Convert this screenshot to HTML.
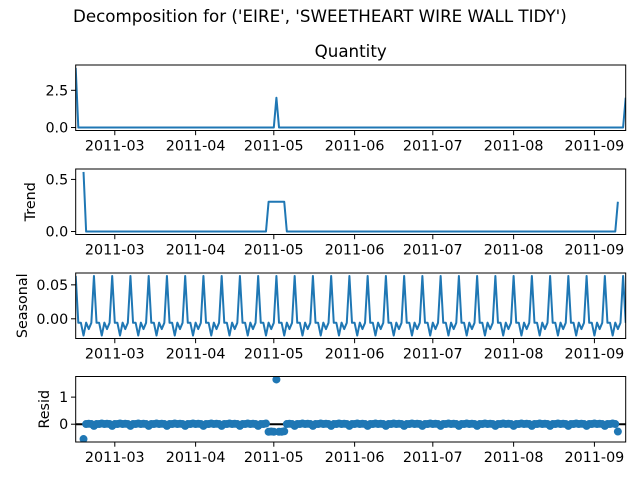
<!DOCTYPE html>
<html><head><meta charset="utf-8"><style>
body{margin:0;background:#fff;}
svg{display:block;font-family:"DejaVu Sans","Liberation Sans",sans-serif;}
</style></head><body>
<svg id="chart" width="640" height="480" viewBox="0 0 640 480" xmlns="http://www.w3.org/2000/svg">
<rect width="640" height="480" fill="#fff"/>
<text x="73" y="22" font-size="16.7" fill="#000">Decomposition for ('EIRE', 'SWEETHEART WIRE WALL TIDY')</text>
<text x="350.7" y="57" font-size="16.7" text-anchor="middle" fill="#000">Quantity</text>
</svg>
<script>
// Daily quantity from 2011-02-14 to 2011-09-13 (212 days)
const startDate = [2011, 1, 14];
const quantity = [4,0,0,0,0,0,0,0,0,0,0,0,0,0,0,0,0,0,0,0,0,0,0,0,0,0,0,0,0,0,
0,0,0,0,0,0,0,0,0,0,0,0,0,0,0,0,0,0,0,0,0,0,0,0,0,0,0,0,0,0,
0,0,0,0,0,0,0,0,0,0,0,0,0,0,0,0,0,2,0,0,0,0,0,0,0,0,0,0,0,0,
0,0,0,0,0,0,0,0,0,0,0,0,0,0,0,0,0,0,0,0,0,0,0,0,0,0,0,0,0,0,
0,0,0,0,0,0,0,0,0,0,0,0,0,0,0,0,0,0,0,0,0,0,0,0,0,0,0,0,0,0,
0,0,0,0,0,0,0,0,0,0,0,0,0,0,0,0,0,0,0,0,0,0,0,0,0,0,0,0,0,0,
0,0,0,0,0,0,0,0,0,0,0,0,0,0,0,0,0,0,0,0,0,0,0,0,0,0,0,0,0,0,
0,2];
const period = 7;
const xTickLabels = ["2011-03","2011-04","2011-05","2011-06","2011-07","2011-08","2011-09"];
const xTickDays = [15,46,76,107,137,168,199];
const yTicksQuantity = [0,2.5];
const yTickLabelsQuantity = ["0.0","2.5"];
const yTicksTrend = [0,0.5];
const yTickLabelsTrend = ["0.0","0.5"];
const yTicksSeasonal = [0,0.05];
const yTickLabelsSeasonal = ["0.00","0.05"];
const yTicksResid = [0,1];
const yTickLabelsResid = ["0","1"];

const n = quantity.length, h = Math.floor(period/2);
const trend = quantity.map((v,i)=>{
  if(i<h||i>=n-h) return null;
  let s=0; for(let k=-h;k<=h;k++) s+=quantity[i+k]; return s/period;
});
const avg=[]; for(let p=0;p<period;p++){let s=0,c=0;for(let i=p;i<n;i+=period){if(trend[i]!==null){s+=quantity[i]-trend[i];c++;}}avg.push(s/c);}
const m = avg.reduce((a,b)=>a+b,0)/period;
const seasonal = quantity.map((v,i)=>avg[i%period]-m);
const resid = quantity.map((v,i)=>trend[i]===null?null:v-trend[i]-seasonal[i]);

const svg=document.getElementById('chart'), NS='http://www.w3.org/2000/svg';
const X0=75.7, X1=625.7;
const FS=14.3;
const xs=i=>X0+(X1-X0)*i/(n-1);
function el(tag,attrs,parent){const e=document.createElementNS(NS,tag);for(const k in attrs)e.setAttribute(k,attrs[k]);(parent||svg).appendChild(e);return e;}
const panels=[
 {name:'quantity',data:quantity,top:65,ticks:yTicksQuantity,labels:yTickLabelsQuantity,ylabel:null},
 {name:'trend',data:trend,top:169,ticks:yTicksTrend,labels:yTickLabelsTrend,ylabel:'Trend',lx:30},
 {name:'seasonal',data:seasonal,top:273,ticks:yTicksSeasonal,labels:yTickLabelsSeasonal,ylabel:'Seasonal',lx:22},
 {name:'resid',data:resid,top:376.5,ticks:yTicksResid,labels:yTickLabelsResid,ylabel:'Resid',lx:44,scatter:true}
];
const H=65.5;
panels.forEach(p=>{
  const vals=p.data.filter(v=>v!==null);
  let lo=Math.min(...vals),hi=Math.max(...vals);const pad=(hi-lo)*0.05;lo-=pad;hi+=pad;
  const ys=v=>p.top+H-(v-lo)/(hi-lo)*H;
  const g=el('g',{});
  
  
  const cid='clip-'+p.name;
  const cp=el('clipPath',{id:cid},g);el('rect',{x:X0,y:p.top,width:X1-X0,height:H},cp);
  if(p.scatter){
    const zl=el('line',{x1:X0,x2:X1,y1:ys(0),y2:ys(0),stroke:'#000','stroke-width':2,'clip-path':'url(#'+cid+')'},g);
    
    
    const dg=el('g',{'clip-path':'url(#'+cid+')'},g);
    p.data.forEach((v,i)=>{if(v===null)return;
      const c=el('circle',{cx:xs(i),cy:ys(v),r:4,fill:'#1f77b4'},dg);
      
      
    });
  }else{
    let d='';let started=false;
    p.data.forEach((v,i)=>{if(v===null){started=false;return;}d+=(started?'L':'M')+xs(i).toFixed(2)+' '+ys(v).toFixed(2);started=true;});
    const path=el('path',{d:d,fill:'none',stroke:'#1f77b4','stroke-width':2,'stroke-linejoin':'round','clip-path':'url(#'+cid+')'},g);
    
    
  }
  const fr=el('rect',{x:X0,y:p.top,width:X1-X0,height:H,fill:'none',stroke:'#000','stroke-width':1},g);
  
  
  p.ticks.forEach((t,k)=>{const y=ys(t);
    el('line',{x1:X0-4.7,x2:X0,y1:y,y2:y,stroke:'#000','stroke-width':1},g);
    const tx=el('text',{x:X0-7.5,y:y+5,'font-size':FS,'text-anchor':'end',fill:'#000'},g);tx.textContent=p.labels[k];
    
    
  });
  xTickDays.forEach((d,k)=>{const x=xs(d);const yb=p.top+H;
    el('line',{x1:x,x2:x,y1:yb,y2:yb+4.7,stroke:'#000','stroke-width':1},g);
    const tx=el('text',{x:x,y:yb+20,'font-size':FS,'text-anchor':'middle',fill:'#000'},g);tx.textContent=xTickLabels[k];
    
    
  });
  if(p.ylabel){const cy=p.top+H/2;
    const t=el('text',{x:p.lx,y:cy,'font-size':FS,'text-anchor':'middle',fill:'#000',transform:'rotate(-90 '+p.lx+' '+cy+') translate(0 5)'},g);t.textContent=p.ylabel;
    
    
  }
});
</script>
</body></html>
